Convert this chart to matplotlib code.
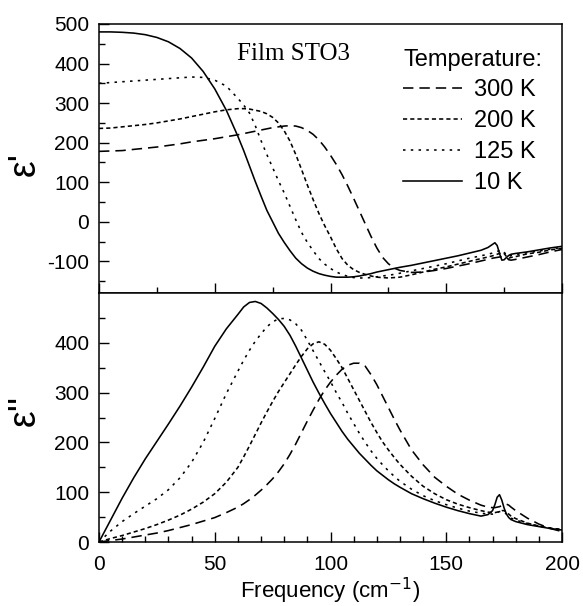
import matplotlib
matplotlib.use("Agg")
import matplotlib.pyplot as plt
from matplotlib.ticker import MultipleLocator, FixedLocator

plt.rcParams['font.family'] = ['Liberation Sans', 'DejaVu Sans']
plt.rcParams['lines.scale_dashes'] = False
plt.rcParams['axes.unicode_minus'] = False

# ---------------- data ----------------
freq = [0, 5, 10, 15, 20, 25, 30, 35, 40, 45, 50, 55, 60, 62.5, 65, 67.5, 70, 72.5, 75, 77.5,
        80, 82.5, 85, 87.5, 90, 92.5, 95, 97.5, 100, 102.5, 105, 107.5, 110, 112.5, 115, 117.5,
        120, 122.5, 125, 127.5, 130, 135, 140, 145, 150, 155, 160, 165, 168, 170, 171, 172, 173,
        174, 175, 176, 177, 178, 180, 185, 190, 195, 200]

temperatures = ['300 K', '200 K', '125 K', '10 K']

# real part epsilon'
e1_300 = [178, 179, 180, 183, 186, 189, 193, 197, 202, 206, 210, 215, 220, 223, 226, 229, 232, 235, 238, 240,
          242, 243, 242, 238, 231, 221, 207, 189, 168, 145, 119, 90, 59, 27, -5, -37,
          -66, -90, -106, -117, -123, -128, -127, -123, -118, -112, -106, -99, -95, -92, -91, -90, -89,
          -88, -87, -90, -96, -97, -95, -89, -83, -76, -70]
e1_200 = [236, 237, 240, 243, 246, 250, 255, 260, 266, 272, 278, 283, 286, 286, 285, 282, 279, 273, 264, 250,
          230, 204, 170, 132, 93, 56, 21, -10, -38, -68, -93, -110, -121, -128, -133, -137,
          -140, -141, -142, -141, -140, -134, -127, -120, -114, -107, -100, -93, -89, -86, -84, -82, -80,
          -79, -80, -88, -92, -90, -88, -81, -77, -71, -67]
e1_125 = [350, 352, 354, 356, 358, 360, 362, 364, 366, 365, 358, 343, 312, 295, 275, 243, 205, 170, 137, 104,
          73, 39, 5, -27, -52, -73, -93, -107, -118, -127, -133, -138, -141, -142, -142, -141,
          -139, -137, -135, -133, -130, -124, -118, -112, -106, -99, -92, -86, -82, -79, -77, -75, -73,
          -72, -76, -86, -88, -85, -83, -78, -74, -69, -65]
e1_10 = [480, 480, 479, 477, 473, 466, 455, 438, 414, 380, 336, 282, 216, 180, 141, 102, 65, 29, 0, -29,
         -52, -73, -92, -106, -117, -125, -131, -135, -138, -140, -140, -140, -139, -137, -134, -131,
         -127, -124, -121, -118, -115, -110, -104, -98, -92, -86, -79, -72, -65, -57, -53, -60, -80,
         -97, -96, -90, -85, -82, -80, -76, -71, -66, -62]

# imaginary part epsilon''
e2_300 = [0, 3, 6, 10, 14, 18, 23, 29, 35, 42, 49, 59, 70, 77, 85, 94, 104, 115, 127, 141,
          157, 176, 197, 220, 243, 265, 286, 305, 321, 335, 347, 355, 359, 359, 353, 336,
          316, 293, 270, 247, 225, 185, 155, 130, 112, 96, 84, 74, 70, 69, 69, 70, 71,
          73, 75, 76, 74, 70, 63, 48, 36, 27, 21]
e2_200 = [0, 7, 13, 20, 27, 35, 44, 54, 66, 80, 97, 120, 150, 171, 193, 216, 239, 261, 282, 302,
          320, 338, 356, 373, 388, 398, 402, 397, 385, 368, 350, 328, 306, 284, 262, 240,
          220, 201, 185, 170, 156, 132, 112, 97, 85, 76, 69, 63, 60, 59, 59, 60, 61,
          63, 63, 60, 56, 52, 47, 38, 32, 28, 25]
e2_125 = [0, 22, 41, 57, 72, 87, 105, 129, 160, 200, 248, 298, 343, 365, 385, 403, 418, 432, 442, 448,
          449, 446, 438, 425, 405, 384, 363, 342, 322, 300, 280, 258, 238, 218, 200, 183,
          168, 155, 143, 132, 122, 106, 93, 83, 75, 68, 62, 58, 56, 56, 57, 59, 61,
          62, 60, 56, 52, 48, 44, 37, 32, 28, 25]
e2_10 = [0, 44, 88, 129, 167, 202, 237, 273, 311, 351, 393, 428, 457, 472, 481, 483, 479, 470, 459, 447,
         433, 415, 393, 369, 345, 321, 299, 278, 258, 240, 222, 206, 192, 178, 166, 154,
         143, 134, 125, 117, 110, 97, 87, 78, 70, 63, 57, 52, 55, 63, 75, 90, 95,
         84, 68, 56, 49, 45, 41, 35, 31, 27, 24]

# ---------------- styles ----------------
styles = {
    '300 K': dict(dashes=(7.5, 4.3)),
    '200 K': dict(dashes=(3.0, 2.2)),
    '125 K': dict(dashes=(1.8, 3.8)),
    '10 K': dict(linestyle='-'),
}
LW = 1.15

fig = plt.figure(figsize=(5.83, 6.06), dpi=100)
ax1 = fig.add_axes([0.1698, 0.5165, 0.7942, 0.4439])
ax2 = fig.add_axes([0.1698, 0.1056, 0.7942, 0.4109])

handles = []
for lab, e1, e2 in zip(temperatures, [e1_300, e1_200, e1_125, e1_10],
                       [e2_300, e2_200, e2_125, e2_10]):
    h, = ax1.plot(freq, e1, color='black', lw=LW, **styles[lab])
    ax2.plot(freq, e2, color='black', lw=LW, **styles[lab])
    handles.append(h)

for ax in (ax1, ax2):
    ax.set_xlim(0, 200)
    for s in ax.spines.values():
        s.set_linewidth(1.1)
    ax.tick_params(which='both', direction='in', top=False, right=False, width=1.0,
                   labelsize=15)
    ax.tick_params(which='major', length=7)
    ax.tick_params(which='minor', length=4.3)
    ax.tick_params(axis='y', pad=7)
    ax.tick_params(axis='x', pad=9)

ax1.set_ylim(-180, 500)
ax1.yaxis.set_major_locator(FixedLocator([-100, 0, 100, 200, 300, 400, 500]))
ax1.yaxis.set_minor_locator(MultipleLocator(50))
ax1.xaxis.set_major_locator(MultipleLocator(50))
ax1.xaxis.set_minor_locator(MultipleLocator(25))
ax1.tick_params(axis='x', labelbottom=False)

ax2.set_ylim(0, 500)
ax2.yaxis.set_major_locator(FixedLocator([0, 100, 200, 300, 400]))
ax2.yaxis.set_minor_locator(FixedLocator([50, 150, 250, 350, 450]))
ax2.xaxis.set_major_locator(MultipleLocator(50))
ax2.xaxis.set_minor_locator(MultipleLocator(10))

ax1.set_ylabel("ε'", fontsize=27)
ax2.set_ylabel("ε''", fontsize=27)
ax1.yaxis.set_label_coords(-0.122, 0.48)
ax2.yaxis.set_label_coords(-0.122, 0.53)
ax2.set_xlabel("Frequency (cm$^{-1}$)", fontsize=16, labelpad=2)

ax1.text(59.6, 424, 'Film STO3', family=['Liberation Serif'], fontsize=18,
         ha='left', va='center')

ax1.text(0.657, 0.866, 'Temperature:', transform=ax1.transAxes, fontsize=17,
         ha='left', va='center')
leg = ax1.legend(handles=handles, labels=temperatures,
                 loc='upper left', bbox_to_anchor=(0.657, 0.795), frameon=False,
                 fontsize=17, handlelength=2.5, handletextpad=0.5, labelspacing=0.38,
                 borderpad=0, borderaxespad=0)

fig.savefig('out.png', dpi=100)
